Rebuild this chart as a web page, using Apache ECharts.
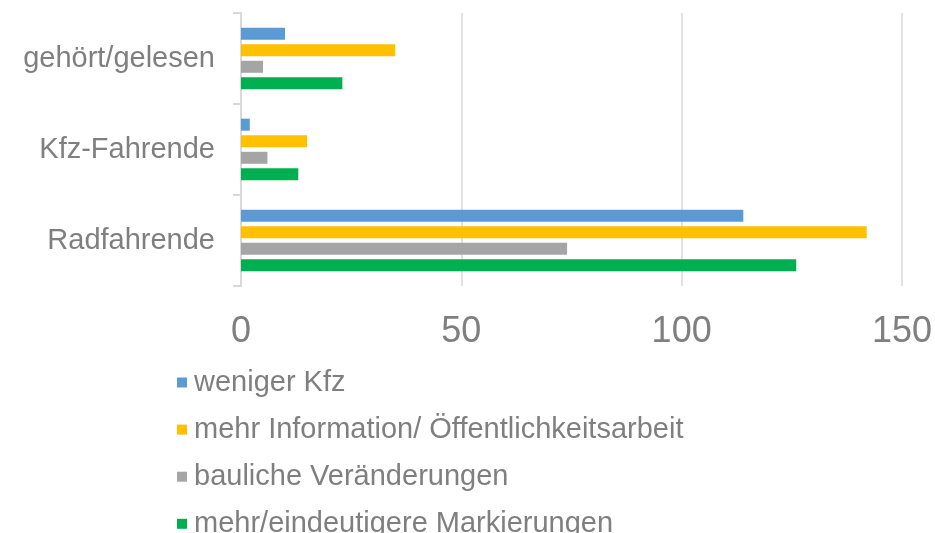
<!DOCTYPE html>
<html>
<head>
<meta charset="utf-8">
<script src="https://cdn.jsdelivr.net/npm/echarts@6/dist/echarts.min.js"></script>
<style>
  html, body { margin: 0; padding: 0; background: #fff; }
  #chart { width: 935px; height: 533px; }
</style>
</head>
<body>
<div id="chart"></div>
<script>
// Kategorien von oben nach unten
const categories = ["gehört/gelesen", "Kfz-Fahrende", "Radfahrende"];
const seriesNames = [
  "weniger Kfz",
  "mehr Information/ Öffentlichkeitsarbeit",
  "bauliche Veränderungen",
  "mehr/eindeutigere Markierungen"
];
const wenigerKfz = [10, 2, 114];
const mehrInformation = [35, 15, 142];
const baulicheVeraenderungen = [5, 6, 74];
const mehrMarkierungen = [23, 13, 126];
const xTicks = [0, 50, 100, 150];

const colors = ["#5B9BD5", "#FFC000", "#A5A5A5", "#00B050"];
const values = [wenigerKfz, mehrInformation, baulicheVeraenderungen, mehrMarkierungen];
const font = "'Liberation Sans', Arial, sans-serif";
const gridLine = { lineStyle: { color: "#D9D9D9", width: 1.5 } };

let myChart = echarts.init(document.getElementById("chart"));
myChart.setOption({
  animation: false,
  grid: { left: 241, top: 13, width: 666, height: 273, containLabel: false },
  xAxis: {
    type: "value",
    min: xTicks[0],
    max: xTicks[xTicks.length - 1],
    interval: 50,
    axisLine: { show: false },
    axisTick: { show: false },
    splitLine: gridLine,
    axisLabel: { color: "#7F7F7F", fontSize: 36, fontFamily: font, margin: 28 }
  },
  yAxis: {
    type: "category",
    inverse: true,
    data: categories,
    axisLine: { lineStyle: { color: "#D9D9D9", width: 2 } },
    axisTick: { show: true, length: 8, lineStyle: { color: "#D9D9D9", width: 2 } },
    axisLabel: { color: "#7F7F7F", fontSize: 29, fontFamily: font, margin: 26 }
  },
  legend: {
    orient: "vertical",
    left: 172,
    top: 363,
    height: 200,
    itemWidth: 10,
    itemHeight: 10,
    itemGap: 18.1,
    icon: "rect",
    data: seriesNames,
    textStyle: { color: "#7F7F7F", fontSize: 29, fontFamily: font, lineHeight: 24, padding: [0, 0, 0, 2] }
  },
  series: seriesNames.map(function (name, i) {
    return {
      name: name,
      type: "bar",
      data: values[i],
      barWidth: 12,
      barGap: "38%",
      itemStyle: { color: colors[i] }
    };
  })
});
</script>
</body>
</html>
